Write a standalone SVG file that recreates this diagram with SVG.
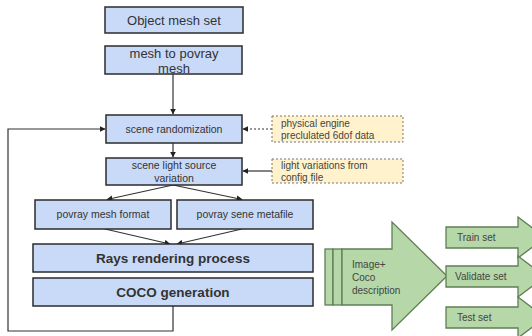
<svg xmlns="http://www.w3.org/2000/svg" width="532" height="336" viewBox="0 0 532 336">
<defs>
<marker id="ah" viewBox="0 0 10 10" refX="9" refY="5" markerWidth="5" markerHeight="5" orient="auto-start-reverse">
<path d="M0,0 L10,5 L0,10 Z" fill="#222"/>
</marker>
<style>
.box{fill:#c9daf8;stroke:#2b2b2b;stroke-width:1.5}
.note{fill:#fff2cc;stroke:#777;stroke-width:1;stroke-dasharray:2 2}
.grn{fill:#b6d7a8;stroke:#5f7f55;stroke-width:1.3}
.t{font-family:"Liberation Sans",Arial,sans-serif;fill:#333;text-anchor:middle}
.tl{font-family:"Liberation Sans",Arial,sans-serif;fill:#444}
.c{fill:none;stroke:#333;stroke-width:1.2}
</style>
</defs>
<rect width="532" height="336" fill="#fff"/>
<g id="connectors">
<line class="c" x1="173" y1="74" x2="173" y2="114" marker-end="url(#ah)"/>
<line class="c" x1="173" y1="143" x2="173" y2="157" marker-end="url(#ah)"/>
<polyline class="c" points="173,306 173,331 8,331 8,129 105,129" marker-end="url(#ah)"/>
<line class="c" x1="272" y1="129" x2="243" y2="129" stroke-dasharray="2 2" marker-end="url(#ah)"/>
<line class="c" x1="272" y1="171" x2="243" y2="171" marker-end="url(#ah)"/>
<line class="c" x1="173" y1="185" x2="107" y2="199.5" marker-end="url(#ah)"/>
<line class="c" x1="173" y1="185" x2="242" y2="199.5" marker-end="url(#ah)"/>
<line class="c" x1="105" y1="229" x2="170" y2="244" marker-end="url(#ah)"/>
<line class="c" x1="242" y1="229" x2="177" y2="244" marker-end="url(#ah)"/>
</g>
<g id="object-mesh-set">
<rect class="box" x="105" y="7" width="138" height="26"/>
<text class="t" x="174" y="25" font-size="13">Object mesh set</text>
</g>
<g id="mesh-to-povray">
<rect class="box" x="105" y="46" width="137" height="28"/>
<text class="t" x="174" y="58" font-size="13">mesh to povray</text>
<text class="t" x="174" y="73" font-size="13">mesh</text>
</g>
<g id="scene-randomization">
<rect class="box" x="106" y="115" width="136" height="28"/>
<text class="t" x="174" y="133" font-size="10.5">scene randomization</text>
</g>
<g id="scene-light">
<rect class="box" x="106" y="158" width="136" height="27"/>
<text class="t" x="174" y="169" font-size="10.5">scene light source</text>
<text class="t" x="174" y="182" font-size="10.5">variation</text>
</g>
<g id="physical-engine">
<rect class="note" x="272" y="116" width="131" height="26"/>
<text class="tl" x="281" y="127" font-size="10">physical engine</text>
<text class="tl" x="281" y="139" font-size="10">preclulated 6dof data</text>
</g>
<g id="light-variations">
<rect class="note" x="272" y="159" width="131" height="24"/>
<text class="tl" x="281" y="169" font-size="10">light variations from</text>
<text class="tl" x="281" y="181" font-size="10">config file</text>
</g>
<g id="povray-mesh-format">
<rect class="box" x="35" y="200" width="136" height="29"/>
<text class="t" x="103" y="218" font-size="10.5">povray mesh format</text>
</g>
<g id="povray-sene-metafile">
<rect class="box" x="177" y="200" width="136" height="29"/>
<text class="t" x="245" y="218" font-size="10.5">povray sene metafile</text>
</g>
<g id="rays-rendering">
<rect class="box" x="33" y="244" width="280" height="28"/>
<text class="t" x="173" y="263" font-size="13.5" font-weight="bold">Rays rendering process</text>
</g>
<g id="coco-generation">
<rect class="box" x="33" y="278" width="280" height="28"/>
<text class="t" x="173" y="297" font-size="13.5" font-weight="bold">COCO generation</text>
</g>
<g id="image-coco">
<rect class="grn" x="325" y="249" width="8" height="56"/>
<rect class="grn" x="333" y="249" width="9" height="56"/>
<path class="grn" d="M342,249 H392 V222 L447,276 L392,330 V305 H342 Z"/>
<text class="tl" x="352" y="268" font-size="10">Image+</text>
<text class="tl" x="352" y="281" font-size="10">Coco</text>
<text class="tl" x="352" y="294" font-size="10">description</text>
</g>
<g id="train-set">
<path class="grn" d="M446,227 H518 V217 L545,237.5 L518,258 V248 H446 Z"/>
<text class="tl" x="457" y="241" font-size="10">Train set</text>
</g>
<g id="validate-set">
<path class="grn" d="M446,266 H518 V256 L545,276.5 L518,297 V287 H446 Z"/>
<text class="tl" x="455" y="280" font-size="10">Validate set</text>
</g>
<g id="test-set">
<path class="grn" d="M446,307 H518 V297 L545,317.5 L518,338 V328 H446 Z"/>
<text class="tl" x="457" y="321" font-size="10">Test set</text>
</g>
</svg>
